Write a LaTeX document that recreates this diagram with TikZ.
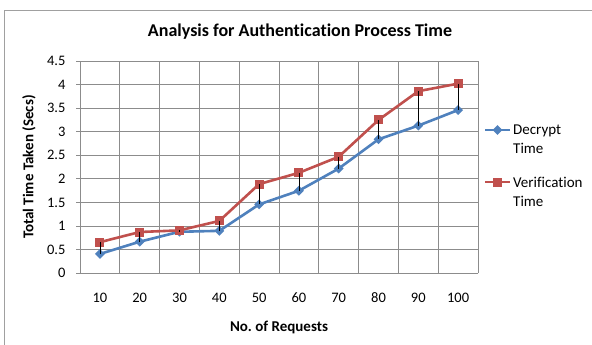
\documentclass[tikz,border=0pt]{standalone}
\usepackage{fontspec}
\setmainfont{Carlito}[Ligatures=NoCommon]
\usetikzlibrary{shapes.geometric}
\frenchspacing
\definecolor{serblue}{HTML}{4F81BD}
\definecolor{serred}{HTML}{C0504D}
\definecolor{gridgray}{HTML}{8C8C8C}
\definecolor{framegray}{HTML}{A0A0A0}
\tikzset{
  gridline/.style={draw=gridgray, line width=0.9pt},
  blueline/.style={draw=serblue, line width=2.6pt, line join=round},
  redline/.style={draw=serred, line width=2.6pt, line join=round},
  dmark/.style={diamond, fill=serblue, inner sep=0pt, minimum width=10pt, minimum height=10pt},
  smark/.style={rectangle, fill=serred, inner sep=0pt, minimum size=9pt},
  hiloline/.style={draw=black, line width=0.8pt},
  ticklab/.style={font=\fontsize{14.5}{16}\selectfont, inner sep=0pt},
  axtitle/.style={font=\bfseries\fontsize{15}{17}\selectfont, inner sep=0pt},
  legtext/.style={font=\fontsize{15}{19}\selectfont, align=left, anchor=west, inner sep=0pt}
}
\begin{document}
\begin{tikzpicture}[x=1pt, y=-1pt]
\useasboundingbox (0,0) rectangle (592,345);
\fill[white] (0,0) rectangle (592,345);
\begin{scope}
\clip (0,0) rectangle (592,345);
\draw[framegray, line width=1pt] (4,11) rectangle (620,370);
\end{scope}

% title
\node[font=\bfseries\fontsize{18}{20}\selectfont, inner sep=0pt] (title) at (300,32) {Analysis for Authentication Process Time};

% plot area: categories 0..10 horizontally, values upward
\begin{scope}[shift={(80,273.3)}, x=39.8pt, y=23.59pt]
  \foreach \v in {1,...,9} \draw[gridline] (-0.1,\v) -- (10,\v);
  \foreach \c in {0,...,10} \draw[gridline] (\c,0) -- (\c,9);
  \draw[gridline] (-0.1,0) -- (10,0);
  % value labels
  \foreach \v/\t in {0/0,1/0.5,2/1,3/1.5,4/2,5/2.5,6/3,7/3.5,8/4,9/4.5}
    \node[ticklab, anchor=east] (yl\v) at (-0.36,\v) {\t};
  % category labels
  \foreach \i/\t in {1/10,2/20,3/30,4/40,5/50,6/60,7/70,8/80,9/90,10/100}
    \node[ticklab] (xl\i) at (\i-0.5,-1.05) {\t};

  % Decrypt Time
  \foreach \i/\v in {1/0.41,2/0.67,3/0.88,4/0.90,5/1.46,6/1.75,7/2.22,8/2.84,9/3.13,10/3.46}
    \coordinate (b\i) at (\i-0.5,2*\v);
  % Verification Time
  \foreach \i/\v in {1/0.66,2/0.875,3/0.91,4/1.11,5/1.89,6/2.13,7/2.47,8/3.25,9/3.86,10/4.02}
    \coordinate (r\i) at (\i-0.5,2*\v);
\end{scope}

\draw[blueline] (b1) -- (b2) -- (b3) -- (b4) -- (b5) -- (b6) -- (b7) -- (b8) -- (b9) -- (b10);
\foreach \i in {1,...,10} \node[dmark] (bm\i) at (b\i) {};
\draw[redline] (r1) -- (r2) -- (r3) -- (r4) -- (r5) -- (r6) -- (r7) -- (r8) -- (r9) -- (r10);
\foreach \i in {1,...,10} \node[smark] (rm\i) at (r\i) {};
% high-low lines between the two series
\foreach \i in {1,...,10} \draw[hiloline] (r\i) -- (b\i);

% axis titles
\node[axtitle] (xtitle) at (279,327) {No. of Requests};
\node[axtitle, rotate=90] (ytitle) at (29,167) {Total Time Taken (Secs)};

% legend
\coordinate (la) at (485,130);
\coordinate (lb) at (510,130);
\draw[blueline] (la) -- (lb);
\node[dmark] (lbm) at (497.5,130) {};
\node[legtext] (lt1) at (513,139.5) {Decrypt\\Time};
\coordinate (lc) at (485,182);
\coordinate (ld) at (510,182);
\draw[redline] (lc) -- (ld);
\node[smark] (lrm) at (497.5,182) {};
\node[legtext] (lt2) at (513,191.5) {Verification\\Time};
\end{tikzpicture}
\end{document}
